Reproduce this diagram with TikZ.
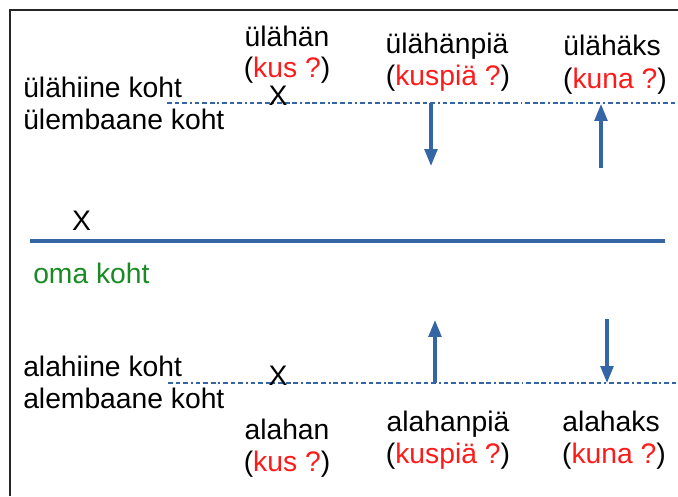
\documentclass[tikz,border=0pt]{standalone}
\usepackage{fontspec}
\setmainfont{Liberation Sans}
\usetikzlibrary{arrows.meta}
\definecolor{lineblue}{HTML}{3465A4}
\definecolor{askred}{HTML}{FF1A1A}
\definecolor{homegreen}{HTML}{1A8A24}
\newcommand{\ask}[1]{(\textcolor{askred}{#1})}

\begin{document}
\begin{tikzpicture}[
  x=0.025cm,
  y=-0.025cm,
  every node/.style={font=\fontsize{20.1}{24}\selectfont, inner sep=0pt},
  boxedge/.style={black!85, line width=1.4pt},
  homeline/.style={lineblue, line width=2.4pt},
  levelline/.style={lineblue, line width=2pt,
                    dash pattern=on 3.4pt off 2pt on 3.4pt off 2pt on 3.4pt off 2pt on 1.4pt off 2pt},
  move/.style={lineblue, line width=2.3pt, -{Triangle[length=12pt,width=9pt]}},
  word/.style={anchor=base},
  sidetext/.style={anchor=base west}
]
  \useasboundingbox (0,0) rectangle (678,496);

  % ---- frame, open at the right and at the bottom ------------------------
  \draw[boxedge] (10,496) -- (10,10) -- (678,10);

  % ---- the three levels ---------------------------------------------------
  \coordinate (upL) at (167,103);
  \coordinate (upR) at (678,103);
  \coordinate (homeL) at (30,241);
  \coordinate (homeR) at (665,241);
  \coordinate (downL) at (168,383);
  \coordinate (downR) at (678,383);

  \draw[levelline] (upL) -- (upR);
  \draw[homeline] (homeL) -- (homeR);
  \draw[levelline] (downL) -- (downR);

  % ---- names of the levels -------------------------------------------------
  \node[sidetext] (upname) at (23,97) {ülähiine koht};
  \node[sidetext] (upnamealt) at (23,129) {ülembaane koht};
  \node[sidetext, homegreen] (homename) at (33,283) {oma koht};
  \node[sidetext] (downname) at (23,376) {alahiine koht};
  \node[sidetext] (downnamealt) at (23,408) {alembaane koht};

  % ---- the X marks ------------------------------------------------------------
  \node[word] (xup) at (278,105) {X};
  \node[word] (xhome) at (81.5,230) {X};
  \node[word] (xdown) at (278,385) {X};

  % ---- upper row: where, whereto, wherefrom --------------------------------
  \node[word] (uphan) at (287,46) {ülähän};
  \node[word] (uphanq) at (287,77) {\ask{kus ?}};
  \node[word] (uppia) at (447,53) {ülähänpiä};
  \node[word] (uppiaq) at (448,85) {\ask{kuspiä ?}};
  \node[word] (upaks) at (612,55) {ülähäks};
  \node[word] (upaksq) at (615,88) {\ask{kuna ?}};

  % ---- lower row ---------------------------------------------------------------
  \node[word] (downhan) at (287,439) {alahan};
  \node[word] (downhanq) at (287,471) {\ask{kus ?}};
  \node[word] (downpia) at (448,431) {alahanpiä};
  \node[word] (downpiaq) at (448,463) {\ask{kuspiä ?}};
  \node[word] (downaks) at (611,431) {alahaks};
  \node[word] (downaksq) at (614,463) {\ask{kuna ?}};

  % ---- movements off and onto the levels -----------------------------------
  \coordinate (upto) at (431,103);
  \coordinate (uptoend) at (431,166);
  \coordinate (upfrom) at (601,104);
  \coordinate (upfromstart) at (601,168);
  \draw[move] (upto) -- (uptoend);
  \draw[move] (upfromstart) -- (upfrom);

  \coordinate (downto) at (435,383);
  \coordinate (downtoend) at (435,320);
  \coordinate (downfrom) at (607,383);
  \coordinate (downfromstart) at (607,319);
  \draw[move] (downto) -- (downtoend);
  \draw[move] (downfromstart) -- (downfrom);
\end{tikzpicture}
\end{document}
